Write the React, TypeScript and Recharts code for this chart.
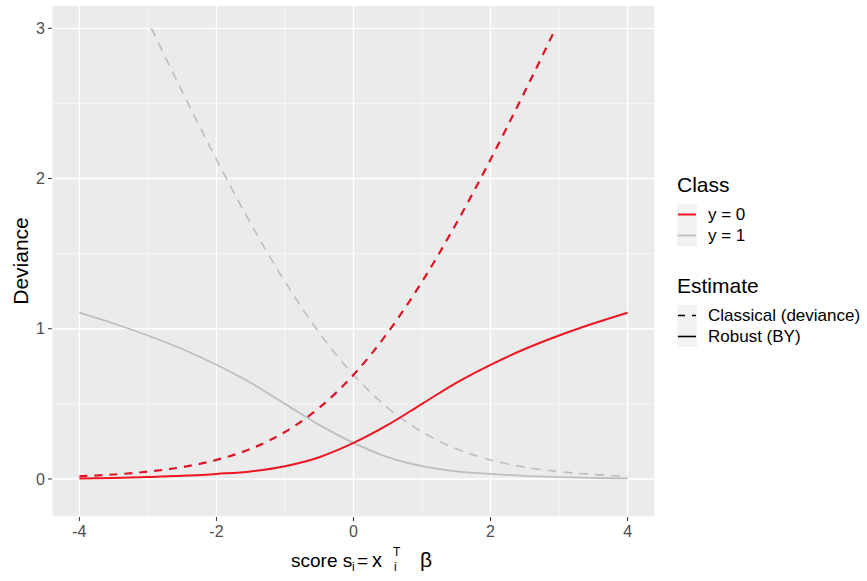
import { LineChart, Line, XAxis, YAxis, CartesianGrid, ReferenceLine } from 'recharts';

// score grid used for the robust curves
const robustScores = [-4, -3.5, -3, -2.5, -2, -1.5, -1, -0.5, 0, 0.5, 1, 1.5, 2, 2.5, 3, 3.5, 4];
const robustY0 = [0.004, 0.007, 0.013, 0.021, 0.034, 0.05, 0.085, 0.145, 0.24, 0.36, 0.5, 0.64, 0.76, 0.865, 0.955, 1.035, 1.107];
const robustY1 = [1.107, 1.035, 0.955, 0.865, 0.76, 0.64, 0.5, 0.36, 0.24, 0.145, 0.085, 0.05, 0.034, 0.021, 0.013, 0.007, 0.004];

// classical deviance curves are clipped near 3
const classicScoresY0 = [-4, -3.5, -3, -2.5, -2, -1.5, -1, -0.5, 0, 0.5, 1, 1.5, 2, 2.5, 2.95];
const classicY0 = [0.018, 0.03, 0.049, 0.079, 0.127, 0.201, 0.313, 0.474, 0.693, 0.974, 1.313, 1.701, 2.127, 2.579, 3.0];
const classicScoresY1 = [-2.95, -2.5, -2, -1.5, -1, -0.5, 0, 0.5, 1, 1.5, 2, 2.5, 3, 3.5, 4];
const classicY1 = [3.0, 2.579, 2.127, 1.701, 1.313, 0.974, 0.693, 0.474, 0.313, 0.201, 0.127, 0.079, 0.049, 0.03, 0.018];

const xTicks = [-4, -2, 0, 2, 4];
const xMinor = [-3, -1, 1, 3];
const yTicks = [0, 1, 2, 3];
const yMinor = [0.5, 1.5, 2.5];

const toRows = (xs: number[], ys: number[]) => xs.map((s, i) => ({ s, d: ys[i] }));

const RED = '#EE1620';
const RED_DASH = '#DD1428';
const GREY = '#BEBEBE';
const FONT = '"Liberation Sans", Arial, sans-serif';

const XTitle = () => {
  const y = 567;
  return (
    <text y={y} fontSize={19} fill="#000" fontFamily={FONT}>
      <tspan x={291}>score s</tspan>
      <tspan x={352} y={y + 4} fontSize={12}>i</tspan>
      <tspan x={357} y={y}>=</tspan>
      <tspan x={372} fontSize={20}>x</tspan>
      <tspan x={394} y={y + 4} fontSize={12}>i</tspan>
      <tspan x={393} y={y - 11} fontSize={12}>T</tspan>
      <tspan x={420} y={y} fontSize={21}>β</tspan>
    </text>
  );
};

const YTitle = () => (
  <text x={28} y={261} transform="rotate(-90, 28, 261)" textAnchor="middle" fontSize={21} fill="#000" fontFamily={FONT}>
    Deviance
  </text>
);

const KeyBox = ({ color, dash, width }: { color: string; dash?: string; width: number }) => (
  <svg width={20} height={21} style={{ display: 'block', background: '#F2F2F2' }}>
    <line x1={1} x2={19} y1={10.5} y2={10.5} stroke={color} strokeWidth={width} strokeDasharray={dash} />
  </svg>
);

const LegendRow = ({ label, children }: any) => (
  <div style={{ display: 'flex', alignItems: 'center', height: 21 }}>
    {children}
    <span style={{ marginLeft: 11, fontSize: 17, color: '#000' }}>{label}</span>
  </div>
);

export default function App() {
  return (
    <div style={{ position: 'fixed', left: 0, top: 0, width: 867, height: 581, background: '#fff', fontFamily: FONT }}>
      <LineChart width={867} height={581} margin={{ top: 5, right: 212, bottom: 0, left: 0 }}>
        <CartesianGrid fill="#EBEBEB" stroke="#FFFFFF" strokeWidth={1.3} />
        <XAxis
          type="number"
          dataKey="s"
          domain={[-4.4, 4.4]}
          ticks={xTicks}
          allowDataOverflow
          height={64}
          axisLine={false}
          tickSize={4}
          tickMargin={5}
          tickLine={{ stroke: '#333', strokeWidth: 1 }}
          tick={{ fill: '#4D4D4D', fontSize: 16, fontFamily: FONT }}
          label={<XTitle />}
        />
        <YAxis
          type="number"
          domain={[-0.253, 3.155]}
          ticks={yTicks}
          allowDataOverflow
          width={52}
          axisLine={false}
          tickSize={4}
          tickMargin={3}
          tickLine={{ stroke: '#333', strokeWidth: 1 }}
          tick={{ fill: '#4D4D4D', fontSize: 16, fontFamily: FONT }}
          label={<YTitle />}
        />
        {xMinor.map((v) => (
          <ReferenceLine key={'x' + v} x={v} stroke="#FFFFFF" strokeWidth={0.6} />
        ))}
        {yMinor.map((v) => (
          <ReferenceLine key={'y' + v} y={v} stroke="#FFFFFF" strokeWidth={0.6} />
        ))}
        <Line data={toRows(classicScoresY1, classicY1)} dataKey="d" type="monotone" stroke={GREY} strokeWidth={1.6} strokeDasharray="9 7" dot={false} isAnimationActive={false} />
        <Line data={toRows(robustScores, robustY1)} dataKey="d" type="monotone" stroke={GREY} strokeWidth={1.8} dot={false} isAnimationActive={false} />
        <Line data={toRows(classicScoresY0, classicY0)} dataKey="d" type="monotone" stroke={RED_DASH} strokeWidth={2.2} strokeDasharray="8 7" dot={false} isAnimationActive={false} />
        <Line data={toRows(robustScores, robustY0)} dataKey="d" type="monotone" stroke={RED} strokeWidth={2} dot={false} isAnimationActive={false} />
      </LineChart>

      {/* legend */}
      <div style={{ position: 'absolute', left: 677, top: 173 }}>
        <div style={{ fontSize: 21, color: '#000', height: 31 }}>Class</div>
        <LegendRow label="y = 0"><KeyBox color={RED} width={2} /></LegendRow>
        <LegendRow label="y = 1"><KeyBox color={GREY} width={1.8} /></LegendRow>
        <div style={{ fontSize: 21, color: '#000', height: 31, marginTop: 28 }}>Estimate</div>
        <LegendRow label="Classical (deviance)"><KeyBox color="#000" width={1.6} dash="7 7" /></LegendRow>
        <LegendRow label="Robust (BY)"><KeyBox color="#000" width={1.6} /></LegendRow>
      </div>
    </div>
  );
}
